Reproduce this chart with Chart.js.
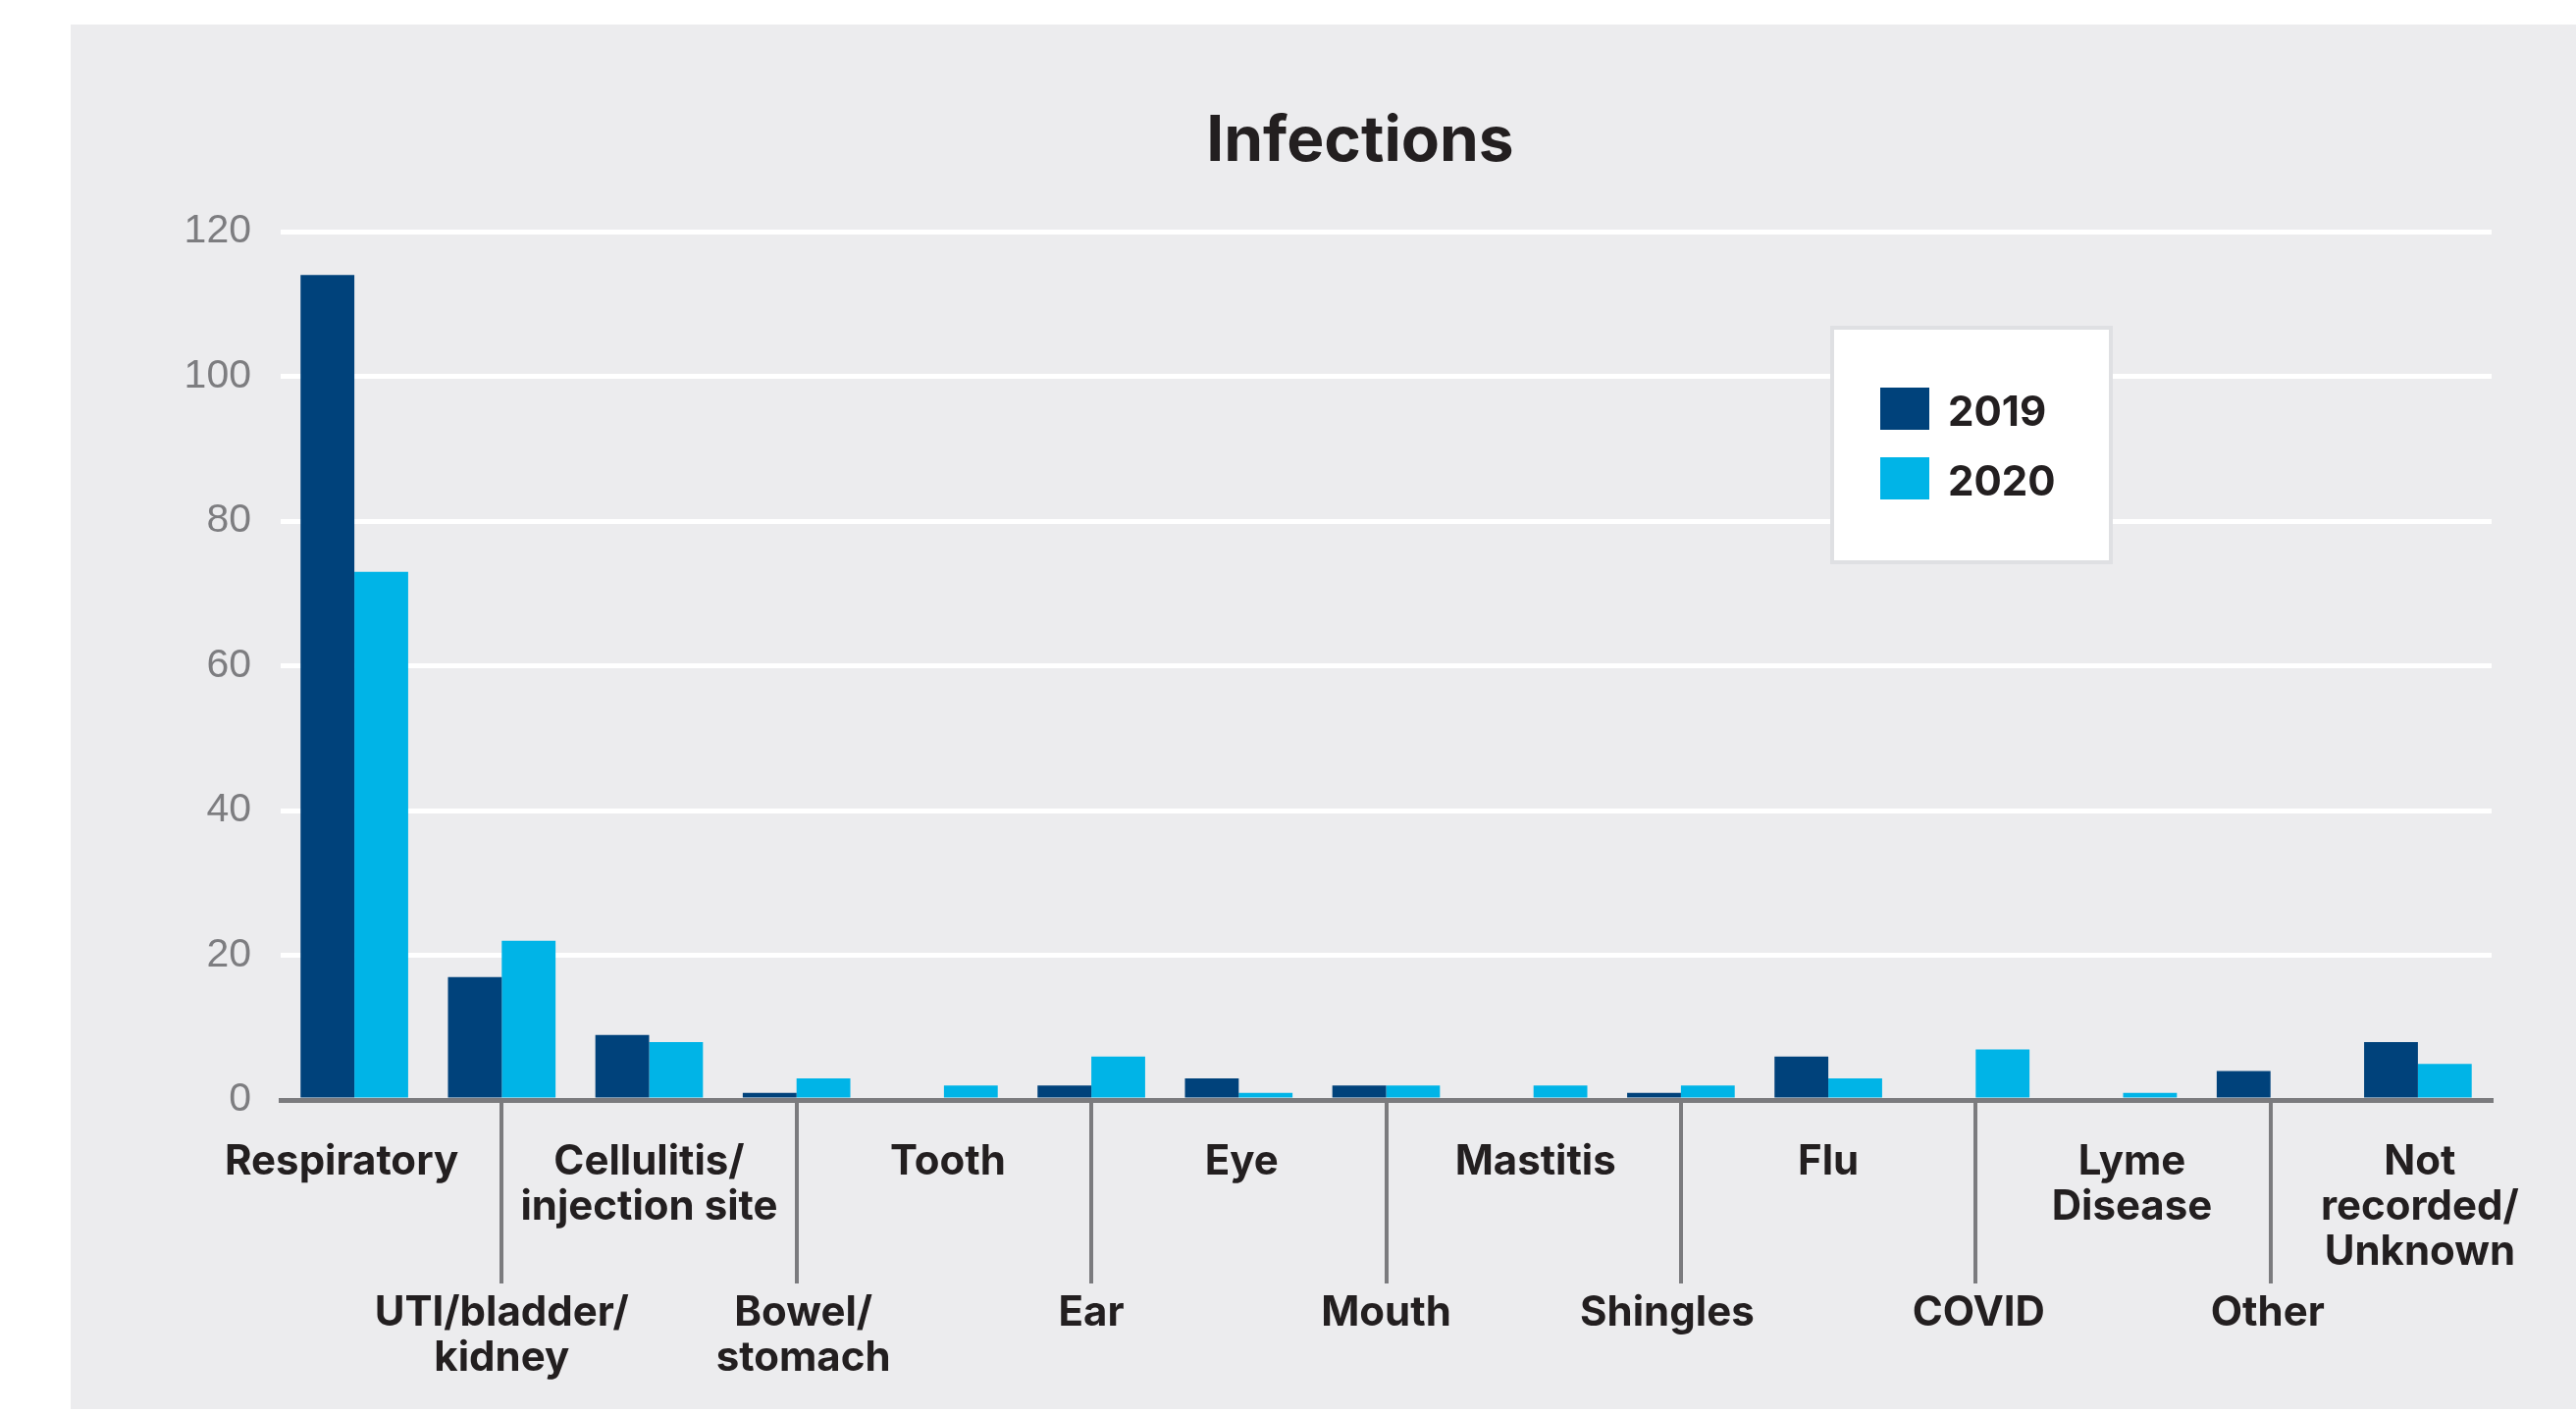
<!DOCTYPE html>
<html>
<head>
<meta charset="utf-8">
<title>Infections</title>
<script src="https://cdn.jsdelivr.net/npm/chart.js@4/dist/chart.umd.min.js"></script>
<style>
  html, body { margin: 0; padding: 0; background: #ffffff; overflow: hidden; }
  #wrap { position: absolute; left: 0; top: 0; width: 2625px; height: 1440px; }
</style>
</head>
<body>
<div id="wrap"><canvas id="chart"></canvas></div>
<script>
// Categories (each entry is the list of label lines)
const categories = [
  ['Respiratory'],
  ['UTI/bladder/', 'kidney'],
  ['Cellulitis/', 'injection site'],
  ['Bowel/', 'stomach'],
  ['Tooth'],
  ['Ear'],
  ['Eye'],
  ['Mouth'],
  ['Mastitis'],
  ['Shingles'],
  ['Flu'],
  ['COVID'],
  ['Lyme', 'Disease'],
  ['Other'],
  ['Not', 'recorded/', 'Unknown']
];
const seriesNames = ['2019', '2020'];
const values2019 = [114, 17, 9, 1, 0, 2, 3, 2, 0, 1, 6, 0, 0, 4, 8];
const values2020 = [73, 22, 8, 3, 2, 6, 1, 2, 2, 2, 3, 7, 1, 0, 5];
const yTicks = [0, 20, 40, 60, 80, 100, 120];
const chartTitle = 'Infections';

const COLORS = { y2019: '#00427b', y2020: '#00b4e7', text: '#231f20', axis: '#7b7b7e', panel: '#ececee' };

// small horizontal nudges (px) so a few labels sit clear of their neighbours
const LABEL_NUDGE = [-13, 0, 0, 7, 4, 0, 3, 0, 2, -14, 0, 3, 9, -3, 2];

// Panel background, title, staggered category labels and the boxed legend
const decor = {
  id: 'decor',
  beforeDraw(chart) {
    const ctx = chart.ctx;
    ctx.save();
    ctx.fillStyle = COLORS.panel;
    ctx.fillRect(72, 25, chart.width - 72, 1411);
    ctx.restore();
  },
  afterDraw(chart) {
    const ctx = chart.ctx;
    const xs = chart.scales.x;
    ctx.save();
    // title
    ctx.fillStyle = COLORS.text;
    ctx.font = '700 64px Inter';
    ctx.textAlign = 'center';
    ctx.textBaseline = 'alphabetic';
    ctx.fillText(chartTitle, 1386, 164);

    // category labels: even ones just below the axis, odd ones below the tick lines
    ctx.font = '700 42px Inter';
    chart.data.labels.forEach((lines, i) => {
      const x = xs.getPixelForValue(i) + LABEL_NUDGE[i];
      const base = i % 2 === 0 ? 1197 : 1351;
      lines.forEach((line, k) => ctx.fillText(line, x, base + k * 46));
    });

    // legend box
    const bx = 1865, by = 332, bw = 288, bh = 243;
    ctx.fillStyle = '#dfe0e3';
    ctx.fillRect(bx, by, bw, bh);
    ctx.fillStyle = '#ffffff';
    ctx.fillRect(bx + 4, by + 4, bw - 8, bh - 8);
    ctx.textAlign = 'left';
    ctx.font = '700 42px Inter';
    chart.data.datasets.forEach((ds, i) => {
      const sy = 395 + i * 71;
      ctx.fillStyle = ds.backgroundColor;
      ctx.fillRect(1916, sy, 50, 43);
      ctx.fillStyle = COLORS.text;
      ctx.fillText(ds.label, 1985, sy + 39);
    });
    ctx.restore();
  }
};

new Chart(document.getElementById('chart'), {
  type: 'bar',
  data: {
    labels: categories,
    datasets: [
      { label: seriesNames[0], data: values2019, backgroundColor: COLORS.y2019 },
      { label: seriesNames[1], data: values2020, backgroundColor: COLORS.y2020 }
    ]
  },
  options: {
    responsive: true,
    maintainAspectRatio: false,
    animation: false,
    devicePixelRatio: 1,
    layout: { padding: { left: 0, right: 86, top: 236, bottom: 132 } },
    datasets: { bar: { categoryPercentage: 0.73, barPercentage: 1.0, borderWidth: 0 } },
    plugins: {
      legend: { display: false },
      title: { display: false },
      tooltip: { enabled: false }
    },
    scales: {
      x: {
        type: 'category',
        offset: true,
        ticks: { display: false },
        grid: {
          offset: false,
          drawOnChartArea: false,
          drawTicks: true,
          tickLength: 187,
          lineWidth: 4,
          color: (c) => (c.index % 2 === 1 ? COLORS.axis : 'rgba(0,0,0,0)')
        },
        border: { display: true, color: COLORS.axis, width: 5 }
      },
      y: {
        min: 0,
        max: 120,
        afterBuildTicks: (s) => { s.ticks = yTicks.map(v => ({ value: v })); },
        afterFit: (s) => { s.width = 286; },
        ticks: {
          padding: 30,
          color: '#7d7d80',
          font: { family: 'Liberation Sans', size: 41, weight: '400' }
        },
        grid: {
          drawTicks: false,
          lineWidth: 5,
          color: (c) => (c.tick && c.tick.value === 0 ? 'rgba(0,0,0,0)' : '#ffffff')
        },
        border: { display: false }
      }
    }
  },
  plugins: [decor]
});
</script>
</body>
</html>
